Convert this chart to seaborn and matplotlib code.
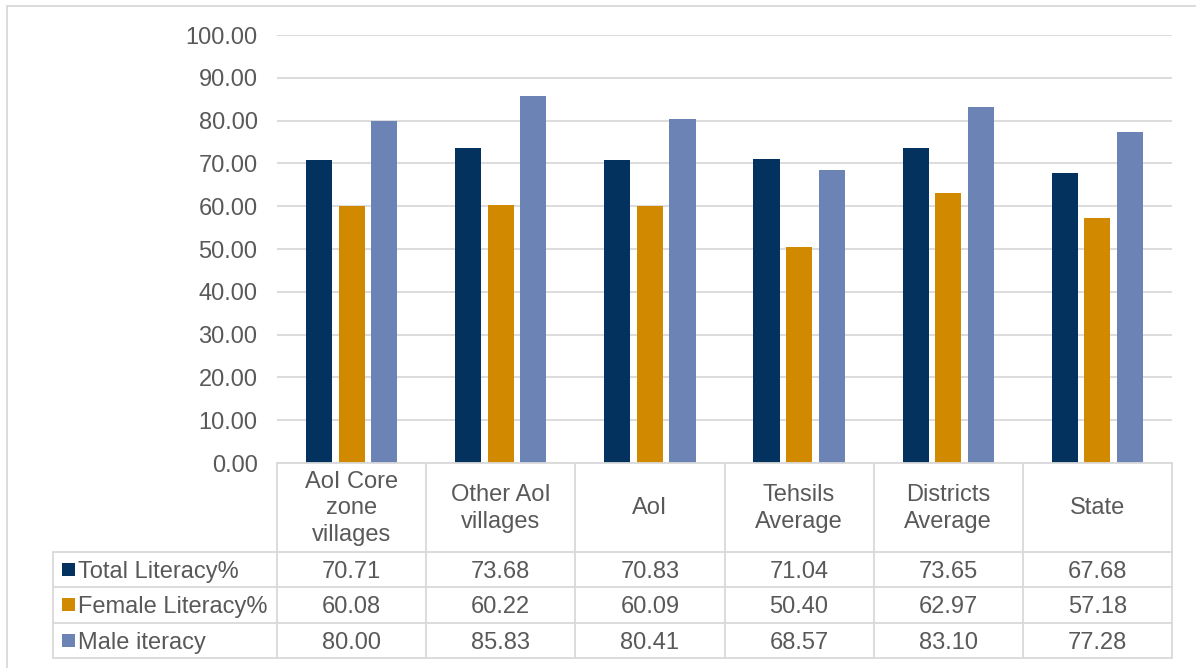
import matplotlib
matplotlib.use("Agg")
import matplotlib.pyplot as plt
from matplotlib.lines import Line2D
from matplotlib.patches import Rectangle
import seaborn as sns
import pandas as pd

# ---- data ----
categories = ["AoI Core\nzone\nvillages", "Other AoI\nvillages", "AoI",
              "Tehsils\nAverage", "Districts\nAverage", "State"]
series_names = ["Total Literacy%", "Female Literacy%", "Male iteracy"]
total_literacy = [70.71, 73.68, 70.83, 71.04, 73.65, 67.68]
female_literacy = [60.08, 60.22, 60.09, 50.40, 62.97, 57.18]
male_literacy = [80.00, 85.83, 80.41, 68.57, 83.10, 77.28]
y_ticks = [0, 10, 20, 30, 40, 50, 60, 70, 80, 90, 100]

colors = ["#03325F", "#D18A00", "#6B84B5"]
grid_col = "#D9D9D9"
text_col = "#595959"
FS = 17

rows = [total_literacy, female_literacy, male_literacy]
df = pd.DataFrame({
    "category": [c for _ in series_names for c in categories],
    "series": [s for s in series_names for _ in categories],
    "value": [v for r in rows for v in r],
})

sns.set_theme(style="white")
plt.rcParams["font.family"] = ["Liberation Sans", "DejaVu Sans"]

W, H = 1196, 668
fig = plt.figure(figsize=(W / 100, H / 100), dpi=100)


def fx(px):
    return px / W


def fy(py):
    return 1 - py / H


ax_l, ax_r, ax_t, ax_b = 277, 1172, 35, 463
ax = fig.add_axes([fx(ax_l), fy(ax_b), fx(ax_r - ax_l), (ax_b - ax_t) / H])

sns.barplot(data=df, x="category", y="value", hue="series", order=categories,
            hue_order=series_names, palette=colors, width=0.655, gap=0.2,
            saturation=1, legend=False, ax=ax, linewidth=0)

ax.set_xlim(-0.5, len(categories) - 0.5)
ax.set_ylim(0, 100)
ax.set_yticks(y_ticks)
ax.set_yticklabels([f"{t:.2f}" for t in y_ticks], fontsize=FS, color=text_col)
ax.tick_params(axis="y", length=0, pad=14)
ax.tick_params(axis="x", length=0, labelbottom=False)
ax.set_xlabel("")
ax.set_ylabel("")
for s in ax.spines.values():
    s.set_visible(False)
ax.yaxis.grid(True, color=grid_col, linewidth=1.3)
ax.set_axisbelow(True)

# ---- outer chart frame ----
fig.add_artist(Rectangle((fx(7), fy(H + 20)), fx(W + 20), fy(6) - fy(H + 20),
                         transform=fig.transFigure, fill=False,
                         edgecolor=grid_col, linewidth=1.3, clip_on=False))

# ---- data table under the plot ----
col_edges = [ax_l + i * (ax_r - ax_l) / len(categories) for i in range(len(categories) + 1)]
label_left = 53
header_bottom = 552
row_h = 35.3
row_edges = [header_bottom + i * row_h for i in range(len(rows) + 1)]


def hline(x0, x1, y):
    fig.add_artist(Line2D([fx(x0), fx(x1)], [fy(y), fy(y)], color=grid_col,
                          linewidth=1.3, transform=fig.transFigure))


def vline(x, y0, y1):
    fig.add_artist(Line2D([fx(x), fx(x)], [fy(y0), fy(y1)], color=grid_col,
                          linewidth=1.3, transform=fig.transFigure))


hline(ax_l, ax_r, ax_b)
for y in row_edges:
    hline(label_left, ax_r, y)
for x in col_edges:
    vline(x, ax_b, row_edges[-1])
vline(label_left, header_bottom, row_edges[-1])

# header cells: category names
for i, cat in enumerate(categories):
    cx = (col_edges[i] + col_edges[i + 1]) / 2
    fig.text(fx(cx), fy((ax_b + header_bottom) / 2 + 1), cat, ha="center", va="center",
             fontsize=FS, color=text_col, linespacing=1.28)

# value rows with legend keys
for r, (name, vals) in enumerate(zip(series_names, rows)):
    cy = (row_edges[r] + row_edges[r + 1]) / 2
    key = 13
    fig.add_artist(Rectangle((fx(62), fy(cy + key / 2)), fx(key), key / H,
                             transform=fig.transFigure, facecolor=colors[r],
                             edgecolor="none"))
    fig.text(fx(78), fy(cy), name, ha="left", va="center_baseline",
             fontsize=FS, color=text_col)
    for i, v in enumerate(vals):
        cx = (col_edges[i] + col_edges[i + 1]) / 2
        fig.text(fx(cx), fy(cy), f"{v:.2f}", ha="center", va="center_baseline",
                 fontsize=FS, color=text_col)

fig.savefig("out.png", dpi=100, facecolor="white")
